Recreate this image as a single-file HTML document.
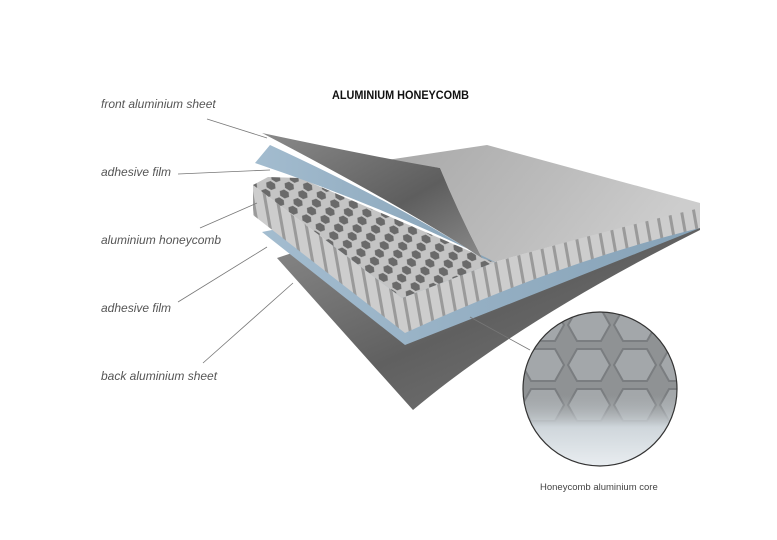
<!DOCTYPE html>
<html><head><meta charset="utf-8"><style>html,body{margin:0;padding:0;background:#fff;width:777px;height:540px;overflow:hidden}</style></head>
<body>
<svg width="777" height="540" viewBox="0 0 777 540" xmlns="http://www.w3.org/2000/svg">
<defs>
<linearGradient id="back" x1="0" y1="0" x2="1" y2="1"><stop offset="0" stop-color="#8a8a8a"/><stop offset="0.5" stop-color="#606060"/><stop offset="1" stop-color="#7a7a7a"/></linearGradient>
<linearGradient id="blue" x1="0" y1="0" x2="1" y2="0"><stop offset="0" stop-color="#a3bccf"/><stop offset="1" stop-color="#86a2b7"/></linearGradient>
<linearGradient id="face" x1="0" y1="0" x2="1" y2="0.3"><stop offset="0" stop-color="#a8a8a8"/><stop offset="0.6" stop-color="#bdbdbd"/><stop offset="1" stop-color="#cdcdcd"/></linearGradient>
<linearGradient id="curl" x1="0" y1="0" x2="1" y2="1"><stop offset="0" stop-color="#8a8a8a"/><stop offset="0.6" stop-color="#5e5e5e"/><stop offset="1" stop-color="#8a8a8a"/></linearGradient>
<linearGradient id="circ" x1="0" y1="0" x2="0" y2="1"><stop offset="0" stop-color="#a9adaf" stop-opacity="0"/><stop offset="0.4" stop-color="#cfd6db"/><stop offset="1" stop-color="#eef2f5"/></linearGradient>
<pattern id="hex" width="16" height="9.2" patternUnits="userSpaceOnUse" patternTransform="rotate(32)">
<rect width="16" height="9.2" fill="#c4c4c4"/>
<polygon points="2.5,4.6 5.3,1 10.7,1 13.5,4.6 10.7,8.2 5.3,8.2" fill="#6a6a6a"/>
</pattern>
<pattern id="walls" width="12" height="10" patternUnits="userSpaceOnUse" patternTransform="rotate(-10)">
<rect width="12" height="10" fill="#cdcdcd"/><rect x="9" width="3" height="10" fill="#9a9a9a"/>
</pattern>
<pattern id="hexc" width="46" height="40" patternUnits="userSpaceOnUse" x="520" y="305">
<rect width="46" height="40" fill="#8f9294"/>
<polygon points="2,20 11,4 35,4 44,20 35,36 11,36" fill="#a3a7aa" stroke="#7a7d80" stroke-width="2"/>
</pattern>
<clipPath id="cc"><circle cx="600" cy="389" r="77"/></clipPath>
</defs>

<text x="332" y="99" font-family="Liberation Sans, sans-serif" font-weight="bold" font-size="12" textLength="137" lengthAdjust="spacingAndGlyphs" fill="#111">ALUMINIUM HONEYCOMB</text>

<g font-family="Liberation Sans, sans-serif" font-style="italic" font-size="12" fill="#555">
<text x="101" y="108">front aluminium sheet</text>
<text x="101" y="176">adhesive film</text>
<text x="101" y="244">aluminium honeycomb</text>
<text x="101" y="312">adhesive film</text>
<text x="101" y="380">back aluminium sheet</text>
</g>

<!-- back sheet -->
<path d="M277,258 L292,253 Q500,320 700,224 L700,230 Q520,320 413,410 Z" fill="url(#back)"/>
<!-- bottom adhesive -->
<path d="M262,232 L282,228 Q520,300 700,222 L700,228 Q520,300 405,345 Z" fill="url(#blue)"/>
<!-- honeycomb walls band -->
<path d="M253,185 L402,298 Q450,280 495,262 Q600,232 700,205 L700,228 Q560,262 405,333 L253,215 Z" fill="url(#walls)"/>
<!-- honeycomb top cells -->
<path d="M253,185 L268,177 L300,178 L495,262 Q450,280 402,298 Z" fill="url(#hex)"/>
<!-- top face -->
<path d="M387,160 L487,145 L700,203 L700,208 Q600,232 495,262 L482,258 Q458,212 440,168 Z" fill="url(#face)"/>
<!-- blue film -->
<path d="M255,163 Q380,205 497,263 L482,258 Q400,205 270,145 Z" fill="url(#blue)"/>
<!-- front dark sheet curl -->
<path d="M262,133 Q380,158 440,168 Q458,212 482,258 Q400,205 262,133 Z" fill="url(#curl)"/>

<!-- leader lines -->
<g stroke="#777" stroke-width="0.8" fill="none">
<line x1="207" y1="119" x2="267" y2="138"/>
<line x1="178" y1="174" x2="270" y2="170"/>
<line x1="200" y1="228" x2="257" y2="203"/>
<line x1="178" y1="302" x2="267" y2="247"/>
<line x1="203" y1="363" x2="293" y2="283"/>
<line x1="470" y1="317" x2="530" y2="350"/>
</g>

<!-- zoom circle -->
<g clip-path="url(#cc)">
<rect x="520" y="305" width="160" height="170" fill="url(#hexc)"/>
<rect x="520" y="395" width="160" height="80" fill="url(#circ)"/>
</g>
<circle cx="600" cy="389" r="77" fill="none" stroke="#333" stroke-width="1.2"/>

<text x="540" y="490" font-family="Liberation Sans, sans-serif" font-size="9.5" fill="#444">Honeycomb aluminium core</text>
</svg>
</body></html>
